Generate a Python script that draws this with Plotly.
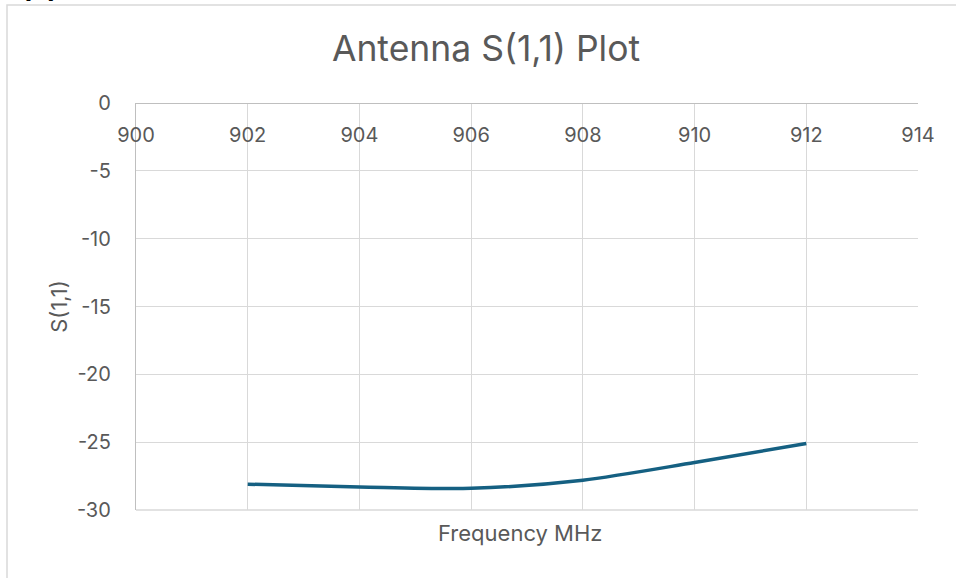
import plotly.graph_objects as go

# Data
freq_mhz = [902, 904, 906, 908, 910, 912]
s11_db = [-28.1, -28.3, -28.4, -27.8, -26.5, -25.1]

x_ticks = [900, 902, 904, 906, 908, 910, 912, 914]
y_ticks = [0, -5, -10, -15, -20, -25, -30]

W, H = 956, 578
L, R, T, B = 136, 918, 103, 510  # plot area in pixels

def px(xp):
    return (xp - L) / (R - L)

def py(yp):
    return (B - yp) / (B - T)

FONT = "Inter"
GRAY = "#595959"
GRID = "#d9d9d9"

fig = go.Figure()
fig.add_trace(go.Scatter(
    x=freq_mhz, y=s11_db, mode="lines",
    line=dict(color="#156082", width=3.5, shape="spline", smoothing=0.8),
    showlegend=False, hoverinfo="x+y",
))

fig.update_layout(
    width=W, height=H,
    margin=dict(l=L, r=W - R, t=T, b=H - B, pad=0, autoexpand=False),
    paper_bgcolor="white", plot_bgcolor="white",
    font=dict(family=FONT, color=GRAY, size=20),
    title=dict(text="Antenna S(1,1) Plot", x=px(486), xref="paper", xanchor="center",
               y=1 - 49 / H, yref="container", yanchor="middle",
               font=dict(size=35.5, color=GRAY, family=FONT)),
    xaxis=dict(
        range=[900, 914], tickvals=x_ticks, ticktext=[str(v) for v in x_ticks],
        side="bottom", anchor="free", position=1.0, ticks="",
        showgrid=True, gridcolor=GRID, gridwidth=1.3,
        showline=True, linecolor="#bfbfbf", linewidth=1.3,
        zeroline=False, tickfont=dict(size=20, color=GRAY),
        ticklabelstandoff=14, ticklabeloverflow="allow", automargin=False,
    ),
    yaxis=dict(
        range=[-30, 0], tickvals=y_ticks, ticktext=[str(v) for v in y_ticks],
        ticks="", showgrid=True, gridcolor=GRID, gridwidth=1.3,
        showline=True, linecolor="#bfbfbf", linewidth=1.3,
        zeroline=False, tickfont=dict(size=20, color=GRAY),
        ticklabelstandoff=20, ticklabeloverflow="allow", automargin=False,
        title=dict(text="S(1,1)", font=dict(size=22, color=GRAY), standoff=3),
    ),
    shapes=[
        # bottom gridline of plot area
        dict(type="line", xref="paper", yref="paper", x0=0, x1=1, y0=0, y1=0,
             line=dict(color=GRID, width=1.3)),
        # chart area border
        dict(type="rect", xref="paper", yref="paper",
             x0=px(7), x1=px(W + 10), y0=py(H + 10), y1=py(5),
             line=dict(color=GRID, width=1.5), fillcolor="rgba(0,0,0,0)", layer="below"),
    ],
    annotations=[
        dict(text="Frequency MHz", xref="paper", yref="paper", x=px(520), y=py(533),
             xanchor="center", yanchor="middle", showarrow=False,
             font=dict(size=22, color=GRAY, family=FONT)),
        dict(text="<b>(a)</b>", xref="paper", yref="paper", x=px(19), y=py(6),
             xanchor="left", yanchor="bottom", showarrow=False,
             font=dict(size=28, color="black", family=FONT)),
    ],
)

fig.write_html("out.html", config={"displayModeBar": False},
               post_script="document.body.style.margin='0';")
